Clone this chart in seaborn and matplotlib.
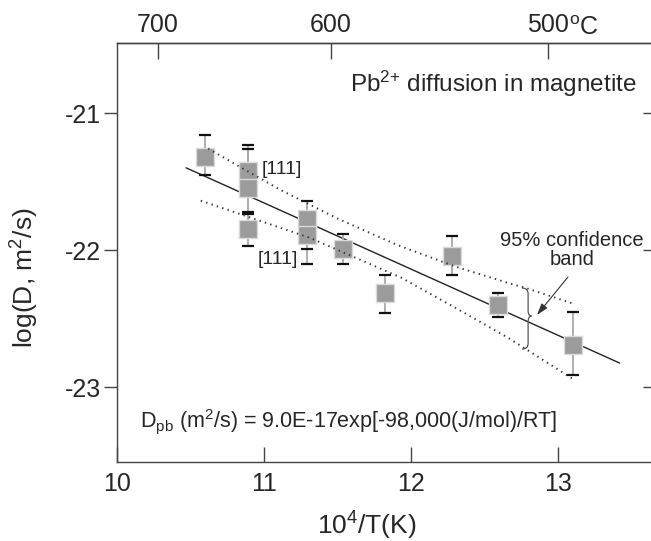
import numpy as np
import pandas as pd
import matplotlib
matplotlib.use("Agg")
import matplotlib.pyplot as plt
import seaborn as sns
from matplotlib.path import Path
from matplotlib.patches import PathPatch

# ---------------- data ----------------
inv_T = [10.60, 10.89, 10.89, 10.89, 11.29, 11.29, 11.54, 11.82, 12.28, 12.59, 13.10]
log_D = [-21.32, -21.42, -21.55, -21.85, -21.77, -21.89, -21.99, -22.31, -22.04, -22.40, -22.69]
err_top = [-21.16, -21.23, -21.26, -21.74, -21.64, -21.78, -21.88, -22.18, -21.90, -22.31, -22.45]
err_bot = [-21.45, -21.53, -21.72, -21.97, -21.99, -22.10, -22.10, -22.46, -22.18, -22.49, -22.91]

fit_x = [10.47, 13.42]
fit_y = [-21.40, -22.825]

band_up_x = [10.62, 11.11, 11.50, 11.90, 12.30, 12.66, 12.79, 13.10]
band_up_y = [-21.26, -21.56, -21.77, -21.96, -22.12, -22.24, -22.28, -22.39]
band_lo_x = [10.57, 11.31, 11.93, 12.30, 12.66, 13.10]
band_lo_y = [-21.64, -21.91, -22.20, -22.42, -22.64, -22.94]

x_ticks = [10, 11, 12, 13]
y_ticks = [-21, -22, -23]
top_ticks_C = [700, 600, 500]
top_labels = ["700", "600", "500"]

# ---------------- style ----------------
sns.set_style("white")
plt.rcParams["font.family"] = ["Liberation Sans", "DejaVu Sans"]
plt.rcParams["mathtext.fontset"] = "custom"
plt.rcParams["mathtext.rm"] = "Liberation Sans"
plt.rcParams["mathtext.it"] = "Liberation Sans:italic"
plt.rcParams["mathtext.bf"] = "Liberation Sans:bold"
plt.rcParams["mathtext.sf"] = "Liberation Sans"

SPINE = "#444444"
fig = plt.figure(figsize=(6.51, 5.41), dpi=100)
ax = fig.add_axes([117 / 651, 79 / 541, 534 / 651, 419 / 541])

df = pd.DataFrame({"inv_T": inv_T, "log_D": log_D})
yerr = [np.array(log_D) - np.array(err_bot), np.array(err_top) - np.array(log_D)]

# fit line
sns.lineplot(x=fit_x, y=fit_y, ax=ax, color="#222222", lw=1.0, zorder=1)

# error bars
eb = ax.errorbar(inv_T, log_D, yerr=yerr, fmt="none", ecolor="#a8a8a8",
                 elinewidth=1.3, capsize=4.5, capthick=1.6, zorder=2)
for cap in eb[1]:
    cap.set_markeredgecolor("#111111")

# squares
sns.scatterplot(data=df, x="inv_T", y="log_D", ax=ax, marker="s", s=150,
                color="#9b9b9b", edgecolor="#dadada", linewidth=1.0, zorder=3)

# confidence band
for bx, by in [(band_up_x, band_up_y), (band_lo_x, band_lo_y)]:
    sns.lineplot(x=bx, y=by, ax=ax, color="#333333", lw=1.4, zorder=4,
                 linestyle=(0, (0.7, 2.2)), estimator=None)

ax.set_xlim(10, 13.633)
ax.set_ylim(-23.547, -20.489)
ax.set_xticks(x_ticks)
ax.set_yticks(y_ticks)
ax.set_xticklabels([str(v) for v in x_ticks])
ax.set_yticklabels([str(v) for v in y_ticks])

for s in ax.spines.values():
    s.set_color(SPINE)
    s.set_linewidth(1.0)
ax.spines["right"].set_visible(False)

ax.tick_params(axis="x", direction="in", length=11, width=1, color=SPINE,
               labelsize=18, pad=7, top=False, bottom=True)
ax.tick_params(axis="y", direction="out", length=9.5, width=1, color=SPINE,
               labelsize=18, pad=2, left=True, right=False)

ax.set_xlabel("10$^{\\mathrm{4}}$/T(K)", fontsize=19)
ax.set_ylabel("log(D, m$^{\\mathrm{2}}$/s)", fontsize=19)
ax.xaxis.set_label_coords(0.468, -0.115)
ax.yaxis.set_label_coords(-0.142, 0.44)


# top temperature axis
def to_C(x):
    x = np.asarray(x, dtype=float)
    with np.errstate(divide="ignore", invalid="ignore"):
        return 1e4 / x - 273.15


def from_C(t):
    t = np.asarray(t, dtype=float)
    with np.errstate(divide="ignore", invalid="ignore"):
        return 1e4 / (t + 273.15)


secx = ax.secondary_xaxis("top", functions=(to_C, from_C))
secx.set_xticks(top_ticks_C)
secx.set_xticklabels(top_labels)
secx.tick_params(direction="in", length=11.5, width=1, color=SPINE,
                 labelsize=18, pad=4)
secx.spines["top"].set_color(SPINE)
secx.spines["top"].set_linewidth(1.0)
ax.annotate("$^{\\mathrm{o}}$C", xy=(from_C(500), 1), xycoords=("data", "axes fraction"),
            xytext=(21, 8), textcoords="offset pixels", ha="left", va="baseline",
            fontsize=18)

# right ticks (inward, no labels)
secy = ax.secondary_yaxis("right")
secy.set_yticks(y_ticks)
secy.set_yticklabels([])
secy.tick_params(direction="in", length=6, width=1, color=SPINE)
secy.spines["right"].set_visible(False)

# annotations
ax.text(13.537, -20.847, "Pb$^{\\mathrm{2{+}}}$ diffusion in magnetite", ha="right",
        va="baseline", fontsize=17.5)
ax.text(11.122, -21.409, "[111]", ha="center", va="center", fontsize=14)
ax.text(11.095, -22.066, "[111]", ha="center", va="center", fontsize=14)
ax.text(13.095, -22.0, "95% confidence\nband", ha="center", va="center",
        fontsize=14.5, linespacing=0.95)
ax.text(10.156, -23.292,
        "D$_{\\mathrm{pb}}$ (m$^{\\mathrm{2}}$/s) = 9.0E-17exp[-98,000(J/mol)/RT]",
        ha="left", va="baseline", fontsize=15.5)

# brace
verts = [(12.755, -22.277), (12.797, -22.277), (12.797, -22.32),
         (12.797, -22.44),
         (12.797, -22.482), (12.82, -22.482),
         (12.797, -22.482), (12.797, -22.525),
         (12.797, -22.68),
         (12.797, -22.723), (12.755, -22.723)]
codes = [Path.MOVETO, Path.CURVE3, Path.CURVE3, Path.LINETO,
         Path.CURVE3, Path.CURVE3, Path.CURVE3, Path.CURVE3,
         Path.LINETO, Path.CURVE3, Path.CURVE3]
ax.add_patch(PathPatch(Path(verts, codes), fill=False, edgecolor="#555555", lw=0.9, zorder=5))

ax.annotate("", xy=(12.857, -22.474), xytext=(13.068, -22.197),
            arrowprops=dict(arrowstyle="-|>,head_length=0.7,head_width=0.22",
                            color="#333333", lw=0.8, shrinkA=0, shrinkB=0))

fig.savefig("out.png", dpi=100)
